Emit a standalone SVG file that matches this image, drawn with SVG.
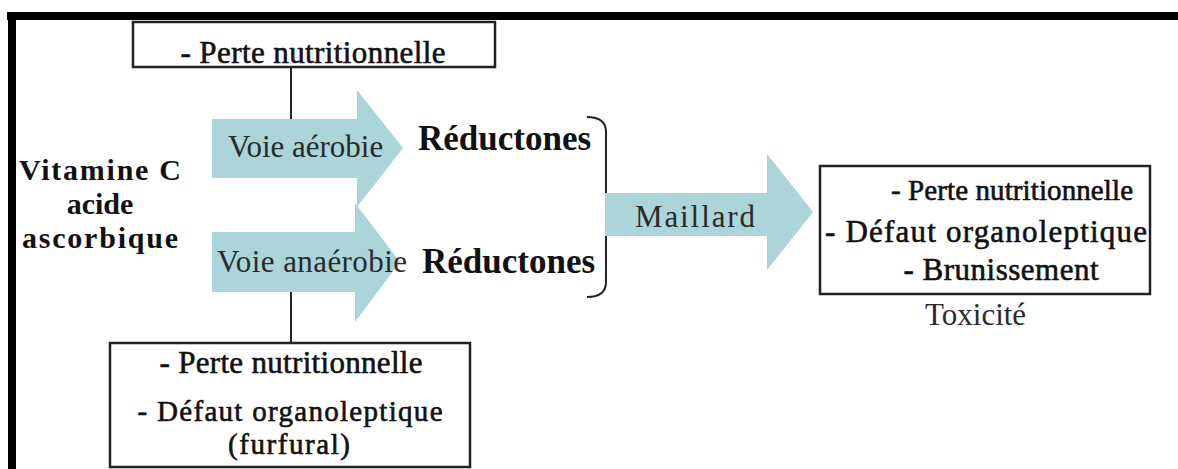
<svg xmlns="http://www.w3.org/2000/svg" width="1178" height="469" viewBox="0 0 1178 469">
<style>
.box{fill:#fff;stroke:#222;stroke-width:2.5}
.arr{fill:#abd5d9;stroke:none}
.ln{stroke:#222;stroke-width:2;fill:none}
.t{font-family:"Liberation Serif","Times New Roman",serif;fill:#111}
.b{font-weight:bold}
.d{stroke:#111;stroke-width:0.6}
.r{fill:#2a2a2a}
.m{text-anchor:middle}
</style>
<rect width="1178" height="469" fill="#fff"/>
<g id="frame">
<rect x="7" y="12" width="1171" height="8" fill="#000"/>
<rect x="8" y="12" width="8" height="457" fill="#000"/>
</g>
<g id="connectors">
<line class="ln" x1="291" y1="67" x2="291" y2="119"/>
<line class="ln" x1="291" y1="292" x2="291" y2="343"/>
<path class="ln" d="M587,117 Q606,117 606,132 L606,200 Q606,215 617,215 Q606,215 606,230 L606,282 Q606,297 587,297"/>
</g>
<g id="top-box">
<rect class="box" x="133" y="22" width="362" height="45"/>
<text class="t d m" x="313" y="63" font-size="31" textLength="265">- Perte nutritionnelle</text>
</g>
<g id="vitamine">
<text class="t b m" x="100" y="180" font-size="30" textLength="162">Vitamine C</text>
<text class="t b m" x="100" y="214" font-size="30">acide</text>
<text class="t b m" x="100" y="248" font-size="30" textLength="156">ascorbique</text>
</g>
<g id="arrow-aerobie">
<polygon class="arr" points="212,119 357,119 357,90 403,148 357,207 357,178 212,178"/>
<text class="t r" x="228" y="157" font-size="31">Voie aérobie</text>
</g>
<g id="arrow-anaerobie">
<polygon class="arr" points="212,232 355,232 355,203 400,262 355,322 355,292 212,292"/>
<text class="t r" x="217" y="272" font-size="31" textLength="190">Voie anaérobie</text>
</g>
<g id="reductones-1">
<text class="t b" x="418" y="150" font-size="35">Réductones</text>
</g>
<g id="reductones-2">
<text class="t b" x="422" y="273" font-size="35">Réductones</text>
</g>
<g id="arrow-maillard">
<polygon class="arr" points="605,193 767,193 767,154 813,212 767,270 767,236 605,236"/>
<text class="t r" x="635" y="227" font-size="31" textLength="120">Maillard</text>
</g>
<g id="right-box">
<rect class="box" x="820" y="166" width="330" height="128"/>
<text class="t d m" x="1012" y="200" font-size="29" textLength="242">- Perte nutritionnelle</text>
<text class="t d m" x="986" y="242" font-size="31" textLength="322">- Défaut organoleptique</text>
<text class="t d m" x="1001" y="280" font-size="31" textLength="195">- Brunissement</text>
</g>
<g id="toxicite">
<text class="t r" x="925" y="325" font-size="31">Toxicité</text>
</g>
<g id="bottom-box">
<rect class="box" x="110" y="343" width="360" height="124"/>
<text class="t d m" x="291" y="373" font-size="31" textLength="263">- Perte nutritionnelle</text>
<text class="t d m" x="290" y="421" font-size="29" textLength="305">- Défaut organoleptique</text>
<text class="t d m" x="289" y="454" font-size="29" textLength="122">(furfural)</text>
</g>
</svg>
